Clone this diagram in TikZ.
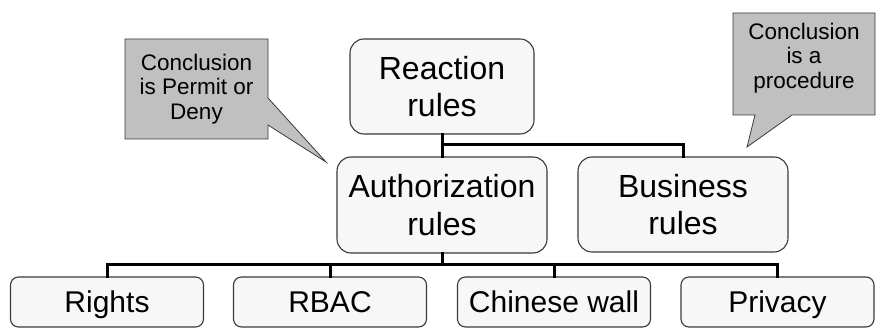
\documentclass[tikz,border=0pt]{standalone}
\usepackage{fontspec}
\setmainfont{Liberation Sans}
\definecolor{boxfill}{HTML}{F7F7F7}
\definecolor{boxline}{HTML}{3A3A3A}
\definecolor{notefill}{HTML}{C0C0C0}
\begin{document}
\begin{tikzpicture}[x=1pt,y=-1pt,
  bigbox/.style={draw=boxline,line width=1.1pt,fill=boxfill,rounded corners=14pt,
    align=center,inner sep=0pt,minimum height=95pt,font=\fontsize{32}{37.5}\selectfont},
  leafbox/.style={draw=boxline,line width=1.1pt,fill=boxfill,rounded corners=8pt,
    inner sep=0pt,minimum width=193pt,minimum height=50pt,text height=22pt,text depth=0pt,
    font=\fontsize{30}{34}\selectfont},
  notetext/.style={align=center,inner sep=0pt,font=\fontsize{22.5}{24.5}\selectfont},
  notebox/.style={draw=boxline,line width=0.8pt,fill=notefill,line join=miter},
  link/.style={line width=3pt,line join=miter,line cap=rect}]
\useasboundingbox (0,0) rectangle (883,328);

% callouts
\draw[notebox] (125,39) -- (268,39) -- (268,98) -- (326,162) -- (268,125)
  -- (268,139) -- (125,139) -- cycle;
\node[notetext] (noteauth) at (196.5,89) {Conclusion\\is Permit or\\Deny};
\draw[notebox] (733,13) -- (875,13) -- (875,115) -- (792,115) -- (747,147)
  -- (755,115) -- (733,115) -- cycle;
\node[notetext] (notebus) at (804,58) {Conclusion\\is a\\procedure};

% rule hierarchy
\node[bigbox,minimum width=184pt] (react) at (442,86.5) {Reaction\\rules};
\node[bigbox,minimum width=210pt,minimum height=96pt] (auth) at (442,205) {Authorization\\rules};
\node[bigbox,minimum width=210pt,minimum height=95pt] (bus) at (683,204.5) {Business\\rules};

\node[leafbox] (rights) at (107,302) {Rights};
\node[leafbox] (rbac) at (330,302) {RBAC};
\node[leafbox] (chin) at (554,302) {Chinese wall};
\node[leafbox] (priv) at (777.5,302) {Privacy};

\coordinate (j1) at (442,145);
\coordinate (j2) at (442,265);

\draw[link] (react.south) -- (auth.north);
\draw[link] (j1) -| (bus.north);
\draw[link] (auth.south) -- (j2);
\draw[link] (rights.north) |- (j2 -| priv.north) -- (priv.north);
\draw[link] (rbac.north) -- (rbac.north |- j2);
\draw[link] (chin.north) -- (chin.north |- j2);
\end{tikzpicture}
\end{document}
